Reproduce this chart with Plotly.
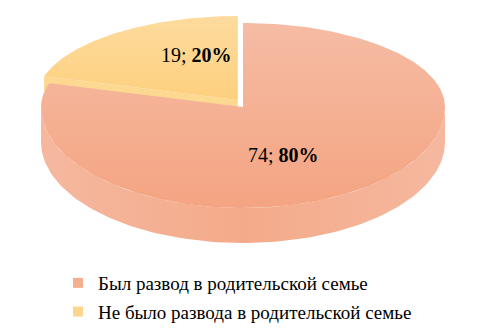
import numpy as np
import plotly.graph_objects as go

# ---- data ----
categories = ["Был развод в родительской семье", "Не было развода в родительской семье"]
values = [74, 19]
top_light = ["#F5BCA4", "#FDDB9E"]
top_dark = ["#F4A482", "#FDD07E"]
side_light = ["#F5B89F", "#FDD890"]
side_dark = ["#F4AA8A", "#FCD086"]
legend_colors = ["#F4AE90", "#FDD68E"]
explode = [0.0, 8.7]  # pixels

# ---- geometry (pixel-like axis units) ----
W, H = 486, 335
cx, cy = 243, 107
rx, ry_back, ry_front = 202, 84, 101
depth = 35
label_rf = [(0.331, 0.593), (0.345, 0.67)]

total = sum(values)
fracs = [v / total for v in values]


def pt(theta_deg, ox, oy, dz=0.0):
    t = np.radians(theta_deg)
    s = np.sin(t)
    ry = ry_back if s > 0 else ry_front
    return cx + ox + rx * np.cos(t), cy + oy - ry * s + dz


slices = []
start = 90.0
for i, f in enumerate(fracs):
    end = start - 360.0 * f
    mid = np.radians((start + end) / 2)
    ox, oy = explode[i] * np.cos(mid), -explode[i] * np.sin(mid)
    slices.append((start, end, ox, oy))
    start = end

fig = go.Figure()

# yellow cut face (radial wall, visible after explode)
s0, e0, ox0, oy0 = slices[1]
ax, ay = cx + ox0, cy + oy0
rxp, ryp = pt(s0, ox0, oy0)
fig.add_trace(go.Scatter(
    x=[ax, rxp, rxp, ax, ax], y=[ay, ryp, ryp + depth, ay + depth, ay],
    fill="toself", mode="lines", line=dict(width=0, color=side_light[1]),
    fillcolor=side_light[1], showlegend=False, hoverinfo="skip"))

# front side wall
s1, e1, ox1, oy1 = slices[0]
thetas = np.linspace(-180, 0, 121)
topr = [pt(t, ox1, oy1) for t in thetas]
botr = [pt(t, ox1, oy1, depth) for t in thetas[::-1]]
xs = [p[0] for p in topr] + [p[0] for p in botr]
ys = [p[1] for p in topr] + [p[1] for p in botr]
fig.add_trace(go.Scatter(
    x=xs + [xs[0]], y=ys + [ys[0]], fill="toself", mode="lines",
    line=dict(width=0, color=side_dark[0]),
    fillgradient=dict(type="horizontal",
                      colorscale=[[0, side_light[0]], [0.5, side_dark[0]], [1, side_light[0]]]),
    showlegend=False, hoverinfo="skip"))

# top faces
for i, (s, e, ox, oy) in enumerate(slices):
    n = max(int(abs(s - e)), 2)
    ths = np.linspace(s, e, n + 1)
    pts = [(cx + ox, cy + oy)] + [pt(t, ox, oy) for t in ths] + [(cx + ox, cy + oy)]
    fig.add_trace(go.Scatter(
        x=[p[0] for p in pts], y=[p[1] for p in pts], fill="toself", mode="lines",
        line=dict(width=0, color=top_dark[i]),
        fillgradient=dict(type="vertical",
                          colorscale=[[0, top_dark[i]], [1, top_light[i]]]),
        showlegend=False, hoverinfo="skip"))

# data labels
for i, (s, e, ox, oy) in enumerate(slices):
    pct = round(100 * values[i] / total)
    lab = f"{values[i]}; <b>{pct}%</b>"
    t = np.radians((s + e) / 2)
    sg = np.sin(t)
    lry = ry_back if sg > 0 else ry_front
    lx = cx + ox + label_rf[i][0] * rx * np.cos(t)
    ly = cy + oy - label_rf[i][1] * lry * sg
    fig.add_annotation(x=lx, y=ly, text=lab, showarrow=False,
                       font=dict(family="Liberation Serif", size=20, color="black"))

# legend entries
for i, c in enumerate(categories):
    fig.add_trace(go.Scatter(
        x=[None], y=[None], mode="markers", name=c, legendgroup=f"g{i}",
        marker=dict(symbol="square", size=10, color=legend_colors[i])))

fig.update_layout(
    width=W, height=H, margin=dict(l=0, r=0, t=0, b=0),
    paper_bgcolor="white", plot_bgcolor="white",
    xaxis=dict(range=[0, W], visible=False, fixedrange=True),
    yaxis=dict(range=[H, 0], visible=False, fixedrange=True),
    legend=dict(x=58 / W, xanchor="left", y=1 - 264 / H, yanchor="top",
                font=dict(family="Liberation Serif", size=19, color="black"),
                tracegroupgap=1, bgcolor="rgba(0,0,0,0)"),
    showlegend=True,
)

fig.write_html("out.html", config={"displayModeBar": False},
               post_script="document.body.style.margin='0';")
